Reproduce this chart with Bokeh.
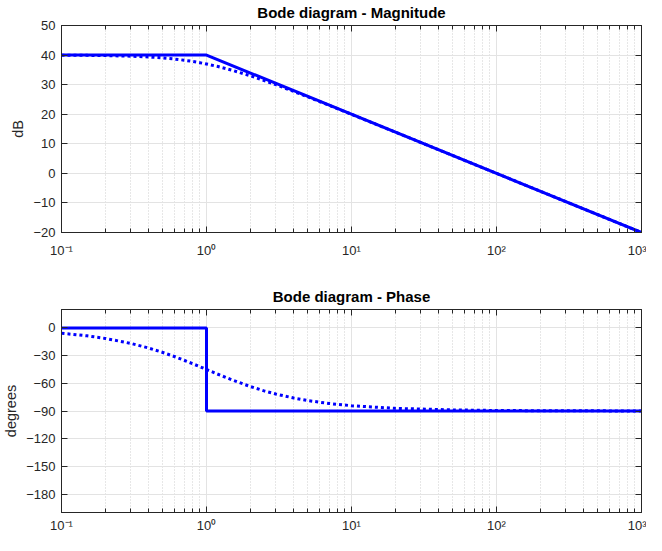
from bokeh.plotting import figure
from bokeh.layouts import column
from bokeh.models import (FixedTicker, LogAxis, LinearAxis, Range1d,
                          CustomJSTickFormatter, CustomLabelingPolicy)
from bokeh.embed import file_html
from bokeh.resources import INLINE

# ---- data ----
freq_asym_mag = [0.1, 1.0, 1000.0]
mag_asym = [40.0, 40.0, -20.0]

freq = [0.1, 0.15, 0.2, 0.3, 0.4, 0.5, 0.6, 0.7, 0.8, 0.9, 1.0, 1.2, 1.5, 2.0,
        2.5, 3.0, 4.0, 5.0, 7.0, 10.0, 20.0, 50.0, 100.0, 200.0, 1000.0]
mag_exact = [39.96, 39.90, 39.83, 39.63, 39.36, 39.03, 38.66, 38.27, 37.85, 37.42,
             36.99, 36.13, 34.88, 33.01, 31.40, 30.00, 27.70, 25.85, 23.01, 19.96,
             13.97, 6.02, 0.00, -6.02, -20.00]
phase_exact = [-5.71, -8.53, -11.31, -16.70, -21.80, -26.57, -30.96, -34.99, -38.66,
               -41.99, -45.00, -50.19, -56.31, -63.43, -68.20, -71.57, -75.96, -78.69,
               -81.87, -84.29, -87.14, -88.85, -89.43, -89.71, -89.94]

freq_asym_phase = [0.1, 1.0, 1.0, 1000.0]
phase_asym = [0.0, 0.0, -90.0, -90.0]

x_ticks = [0.1, 1.0, 10.0, 100.0, 1000.0]
x_tick_labels = ["10\u207b\u00b9", "10\u2070", "10\u00b9", "10\u00b2", "10\u00b3"]
mag_ticks = [-20, -10, 0, 10, 20, 30, 40, 50]
phase_ticks = [-180, -150, -120, -90, -60, -30, 0]

FONT = "Liberation Sans"
TXT = "#262626"
BLUE = "#0000ff"

minor = [m * d for d in [0.1, 1.0, 10.0, 100.0] for m in range(2, 10)]

x_formatter = CustomJSTickFormatter(args=dict(xvals=x_ticks, xlabs=x_tick_labels), code="""
    for (let i = 0; i < xvals.length; i++) {
        if (Math.abs(Math.log10(tick) - Math.log10(xvals[i])) < 1e-6) return xlabs[i];
    }
    return "";
""")

hide_labels = CustomLabelingPolicy(code="""
    const all = [...indices];
    for (const i of all) indices.unset(i);
    return indices;
""")


def make_fig(title, height, ylabel, yr, yticks, top_border, bottom_border, xstandoff):
    p = figure(width=646, height=height, x_axis_type="log",
               x_range=Range1d(0.1, 1000), y_range=Range1d(*yr),
               output_backend="svg", toolbar_location=None,
               min_border_left=55, min_border_right=0,
               min_border_top=top_border, min_border_bottom=bottom_border)
    p.title.text = title
    p.title.text_font = FONT
    p.title.text_font_size = "15px"
    p.title.text_font_style = "bold"
    p.title.text_color = "black"
    p.title.align = "center"
    p.title.standoff = 0
    p.outline_line_color = TXT
    p.outline_line_width = 1
    p.outline_line_alpha = 1

    xt = FixedTicker(ticks=x_ticks, minor_ticks=minor)
    yt = FixedTicker(ticks=yticks)

    bottom_ax = p.xaxis[0]
    left_ax = p.yaxis[0]
    bottom_ax.ticker = xt
    bottom_ax.formatter = x_formatter
    left_ax.ticker = yt
    left_ax.axis_label = ylabel
    left_ax.axis_label_text_font = FONT
    left_ax.axis_label_text_font_size = "14.5px"
    left_ax.axis_label_text_font_style = "normal"
    left_ax.axis_label_text_color = TXT
    left_ax.axis_label_standoff = 4

    top_ax = LogAxis(ticker=xt, major_label_policy=hide_labels)
    right_ax = LinearAxis(ticker=yt, major_label_policy=hide_labels)
    p.add_layout(top_ax, "above")
    p.add_layout(right_ax, "right")

    for ax in [bottom_ax, left_ax, top_ax, right_ax]:
        ax.axis_line_color = TXT
        ax.major_tick_line_color = TXT
        ax.minor_tick_line_color = TXT
        ax.major_tick_in = 6
        ax.major_tick_out = 0
        ax.minor_tick_in = 4
        ax.minor_tick_out = 0
        ax.major_label_text_font = FONT
        ax.major_label_text_color = TXT
        ax.major_label_standoff = 6
        ax.major_label_text_font_size = "13px"
    bottom_ax.major_label_standoff = xstandoff
    for ax in [top_ax, right_ax]:
        ax.major_label_standoff = 0
        ax.major_label_text_font_size = "1px"

    p.xgrid.grid_line_color = "#e3e3e3"
    p.xgrid.minor_grid_line_color = "#cfcfcf"
    p.xgrid.minor_grid_line_dash = "1 2"
    p.ygrid.grid_line_color = "#e3e3e3"
    p.background_fill_color = "white"
    p.border_fill_color = "white"
    return p


p1 = make_fig("Bode diagram - Magnitude", 270, "dB", (-20, 50), mag_ticks, 25, 38, 10)
p1.line(freq, mag_exact, line_color=BLUE, line_width=3, line_dash="3 3")
p1.line(freq_asym_mag, mag_asym, line_color=BLUE, line_width=3)

p2 = make_fig("Bode diagram - Phase", 265, "degrees", (-200, 20), phase_ticks, 39, 21, 5)
p2.line(freq, phase_exact, line_color=BLUE, line_width=3, line_dash="3 3")
p2.line(freq_asym_phase, phase_asym, line_color=BLUE, line_width=3)

layout = column(p1, p2)
open("out.html", "w").write(file_html(layout, INLINE))
